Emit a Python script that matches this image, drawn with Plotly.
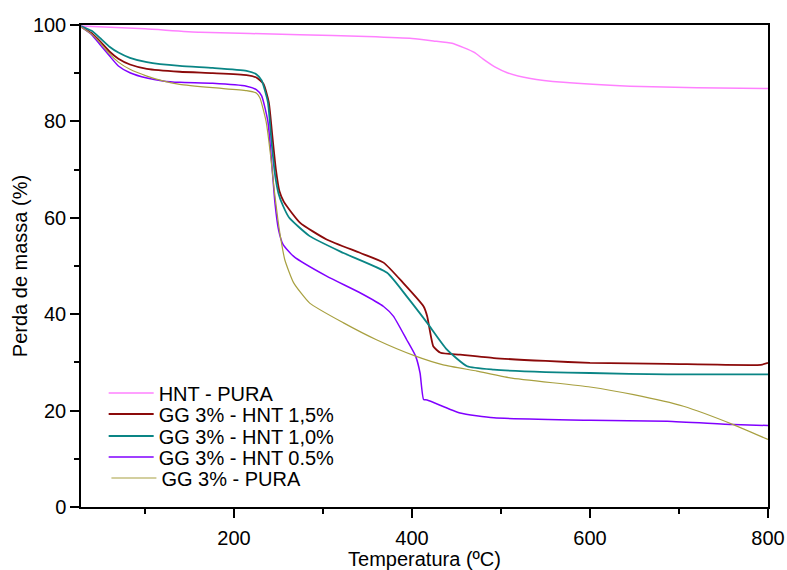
import plotly.graph_objects as go

# TGA curves
t_hnt = [28, 100, 162, 274, 349, 400, 424, 445, 458, 470, 480, 493, 507, 533, 570, 645, 720, 800]
m_hnt = [99.8, 99.2, 98.5, 98.0, 97.6, 97.2, 96.7, 96.2, 95.3, 94.3, 92.9, 91.3, 90.1, 88.9, 88.1, 87.3, 87.0, 86.8]

t_15 = [28, 40, 50, 60, 70, 83, 102, 139, 176, 214, 225, 233, 239, 243, 247, 251, 256, 274, 304, 342,
        368, 390, 413, 417, 424, 432, 454, 492, 550, 600, 687, 792, 800]
m_15 = [99.7, 98.3, 96.5, 94.5, 93.0, 91.8, 90.9, 90.3, 90.0, 89.6, 89.1, 87.8, 84.0, 77.0, 70.0, 65.5, 63.3, 59.0, 55.5, 52.7,
        50.7, 46.5, 41.6, 39.6, 33.3, 32.0, 31.6, 30.9, 30.3, 29.9, 29.7, 29.5, 29.9]

t_10 = [28, 40, 50, 60, 70, 83, 102, 139, 176, 214, 225, 231, 238, 242, 246, 250, 255, 262, 285, 323,
        372, 394, 417, 439, 462, 492, 550, 600, 687, 800]
m_10 = [99.8, 98.8, 97.2, 95.5, 94.3, 93.2, 92.3, 91.5, 91.1, 90.5, 89.8, 88.5, 84.0, 76.0, 69.0, 65.0, 62.5, 60.0, 56.2, 52.7,
        48.6, 43.7, 38.2, 32.7, 29.2, 28.5, 28.0, 27.8, 27.5, 27.5]

t_05 = [28, 40, 50, 60, 70, 83, 102, 120, 139, 176, 214, 225, 231, 238, 242, 246, 250, 255, 267, 304,
        342, 368, 379, 394, 404, 409, 413, 417, 454, 492, 600, 687, 761, 800]
m_05 = [99.6, 98.0, 95.8, 93.6, 91.5, 90.1, 89.0, 88.4, 88.1, 87.9, 87.3, 86.6, 85.3, 80.0, 72.0, 63.0, 57.5, 54.5, 52.0, 47.9,
        44.4, 41.6, 39.6, 34.7, 31.3, 27.8, 22.3, 22.2, 19.5, 18.5, 18.0, 17.8, 17.1, 16.9]

t_gg = [28, 40, 50, 60, 70, 83, 102, 120, 139, 176, 214, 225, 229, 236, 241, 245, 249, 252, 257, 267,
        285, 323, 360, 404, 435, 473, 510, 600, 649, 705, 761, 800]
m_gg = [99.6, 98.1, 96.2, 94.0, 92.3, 90.8, 89.4, 88.4, 87.7, 87.0, 86.4, 85.9, 84.9, 80.0, 73.0, 66.0, 60.0, 56.2, 51.3, 46.5,
        42.3, 38.2, 34.7, 31.3, 29.5, 28.2, 26.8, 24.9, 23.3, 20.9, 17.1, 14.0]

FONT = "Arial, Liberation Sans, sans-serif"


def main() -> None:
    fig = go.Figure()

    # one legend per trace so the rows can sit as tight as in the original
    fig.add_trace(go.Scatter(x=t_hnt, y=m_hnt, mode="lines", name="HNT - PURA", legend="legend",
                             line=dict(color="#ff80ff", width=1.5)))
    fig.add_trace(go.Scatter(x=t_15, y=m_15, mode="lines", name="GG 3% - HNT 1,5%", legend="legend2",
                             line=dict(color="#8b0a0a", width=1.8)))
    fig.add_trace(go.Scatter(x=t_10, y=m_10, mode="lines", name="GG 3% - HNT 1,0%", legend="legend3",
                             line=dict(color="#0a8585", width=1.8)))
    fig.add_trace(go.Scatter(x=t_05, y=m_05, mode="lines", name="GG 3% - HNT 0.5%", legend="legend4",
                             line=dict(color="#8000ff", width=1.5)))
    fig.add_trace(go.Scatter(x=t_gg, y=m_gg, mode="lines", name="GG 3% - PURA", legend="legend5",
                             line=dict(color="#a8a040", width=1.2)))

    fig.update_traces(line_shape="spline", line_smoothing=0.5)

    axis_style = dict(
        showline=True, linecolor="black", linewidth=1.5, mirror=True,
        ticks="outside", ticklen=9, tickwidth=1.5, tickcolor="black",
        showgrid=False, zeroline=False, automargin=False, ticklabeloverflow="allow",
        tickfont=dict(family=FONT, size=20, color="black"),
        title_font=dict(family=FONT, size=20, color="black"),
    )

    fig.update_xaxes(range=[28, 800], tick0=0, dtick=200, title_text="Temperatura (ºC)",
                     title_standoff=6, ticklabelstandoff=3,
                     minor=dict(ticks="outside", ticklen=5, tickwidth=1.5, tickcolor="black", dtick=100, tick0=0),
                     **axis_style)
    fig.update_yaxes(range=[0, 100], tick0=0, dtick=20, title_text="Perda de massa (%)",
                     title_standoff=0,
                     minor=dict(ticks="outside", ticklen=5, tickwidth=1.5, tickcolor="black", dtick=10, tick0=0),
                     **axis_style)

    # plot area in page pixels: x 81..768, y 25..507
    plot_h = 507 - 25
    leg = dict(xanchor="left", yanchor="middle", bgcolor="rgba(0,0,0,0)", borderwidth=0,
               itemwidth=45, font=dict(family=FONT, size=20, color="black"))
    rows = [393, 414, 436, 457, 478]
    legends = {}
    for i, py in enumerate(rows):
        key = "legend" if i == 0 else "legend%d" % (i + 1)
        legends[key] = dict(leg, x=0.033 if i < 4 else 0.037, y=(507 - py) / plot_h)

    fig.update_layout(
        width=787, height=570,
        margin=dict(l=81, r=19, t=25, b=63),
        showlegend=True,
        plot_bgcolor="white", paper_bgcolor="white",
        font=dict(family=FONT, color="black"),
        **legends,
    )

    # drop the default 8 px body margin so the figure fills the window exactly
    fig.write_html("out.html",
                   config={"displayModeBar": False},
                   post_script="document.body.style.margin='0';document.body.style.overflow='hidden';")


if __name__ == "__main__":
    main()
